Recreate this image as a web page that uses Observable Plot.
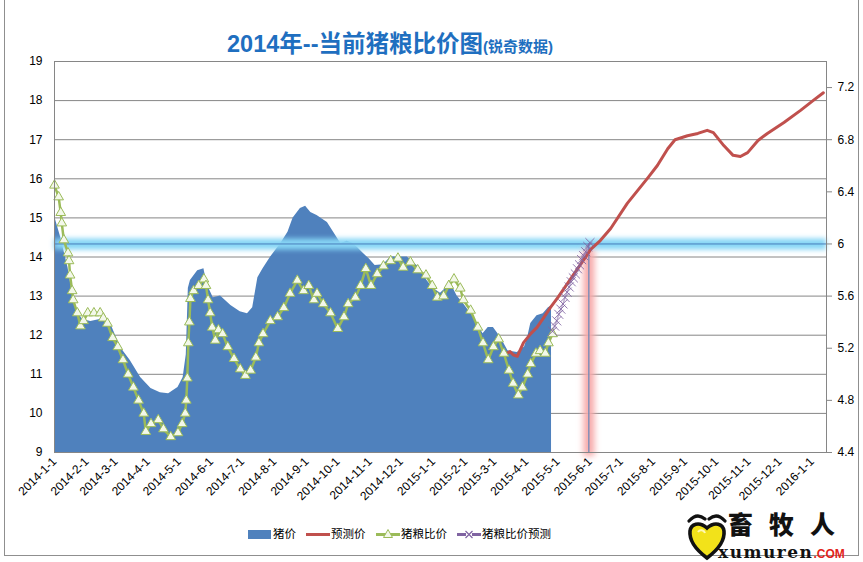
<!DOCTYPE html>
<html>
<head>
<meta charset="utf-8">
<script src="https://cdn.jsdelivr.net/npm/d3@7"></script>
<script src="https://cdn.jsdelivr.net/npm/@observablehq/plot@0.6"></script>
<style>
  body { margin: 0; background: #fff; }
  #wrap { position: relative; width: 863px; height: 562px; overflow: hidden; background: #fff;
          font-family: "Liberation Sans", "Noto Sans CJK SC", sans-serif; }
  #chart { position: absolute; left: 0; top: 0; }
  #border { position: absolute; left: 4px; top: -2px; width: 855px; height: 558px; border: 1px solid #8f8f8f; box-sizing: border-box; }
  #title { position: absolute; left: 0; width: 780px; top: 25px; text-align: center; color: #1F6FC0; font-weight: bold; white-space: nowrap; }
  #title .big { font-size: 23.5px; }
  #title .small { font-size: 15px; }
  .leg { position: absolute; top: 525px; font-size: 11.5px; color: #000; line-height: 18px; white-space: nowrap; }
  .leg svg { position: absolute; top: 0; }
  #logo { position: absolute; left: 686px; top: 512px; }
  #logo .cn { position: absolute; left: 42px; top: -7px; line-height: normal; font-family: "Noto Sans CJK SC", sans-serif; font-weight: 900; font-size: 25px; letter-spacing: 16px; color: #111; white-space: nowrap; }
  #logo .en { position: absolute; left: 32px; top: 30px; line-height: normal; font-family: "DejaVu Serif", "Liberation Serif", serif; font-weight: bold; font-size: 17px; letter-spacing: 1.5px; color: #111; white-space: nowrap; }
  #logo .en span { color: #E2231A; font-family: "Liberation Sans", sans-serif; font-size: 12px; letter-spacing: 0; }
</style>
</head>
<body>
<div id="wrap">
  <div id="chart"></div>
  <div id="border"></div>
  <div id="title"><span class="big">2014年--当前猪粮比价图</span><span class="small">(锐奇数据)</span></div>
  <div id="legend"></div>
  <div id="logo">
    <svg width="42" height="50" viewBox="0 0 42 50">
      <path d="M3,9 Q11,0 19,7" fill="none" stroke="#111" stroke-width="3.2" stroke-linecap="round"/>
      <path d="M23,7 Q31,0 39,9" fill="none" stroke="#111" stroke-width="3.2" stroke-linecap="round"/>
      <path d="M21,46 C9,37 3,29 4,19 C5,12 13,9 21,16 C29,9 37,12 38,19 C39,29 33,37 21,46 Z" fill="#F2E21A" stroke="#111" stroke-width="3.6"/>
      <path d="M12,20 C14,17 18,18 19,21" fill="none" stroke="#fff8b0" stroke-width="2"/>
    </svg>
    <div class="cn">畜牧人</div>
    <div class="en">xumuren<span>.COM</span></div>
  </div>
</div>
<script>
// ---------------- data ----------------
// 猪价 (left axis, 元/kg) – bars
const pigDates = ["2014-01-01","2014-01-07","2014-01-14","2014-01-18","2014-01-23","2014-01-28","2014-02-05","2014-02-14","2014-02-24",
  "2014-03-03","2014-03-08","2014-03-15","2014-03-25","2014-04-04","2014-04-13","2014-04-21","2014-04-30","2014-05-05","2014-05-08",
  "2014-05-10","2014-05-12","2014-05-19","2014-05-25","2014-05-28","2014-06-03","2014-06-10","2014-06-20","2014-06-29","2014-07-06",
  "2014-07-11","2014-07-16","2014-07-21","2014-07-28","2014-08-07","2014-08-14","2014-08-19","2014-08-26","2014-08-31","2014-09-05",
  "2014-09-11","2014-09-21","2014-09-27","2014-10-04","2014-10-10","2014-10-15","2014-10-20","2014-10-26","2014-10-31","2014-11-06",
  "2014-11-14","2014-11-21","2014-11-30","2014-12-07","2014-12-13","2014-12-20","2014-12-26","2015-01-01","2015-01-08","2015-01-18",
  "2015-01-24","2015-01-30","2015-02-09","2015-02-18","2015-02-23","2015-02-28","2015-03-07","2015-03-14","2015-03-23","2015-03-30",
  "2015-04-02","2015-04-05","2015-04-11","2015-04-17","2015-04-22","2015-04-25"];
const pigValues = [15.05,14.5,13.73,13.1,12.6,12.4,12.35,12.4,12.3,
  11.86,11.6,11.35,10.92,10.64,10.53,10.5,10.66,10.92,11.5,
  13.2,13.4,13.65,13.7,13.3,12.96,13.0,12.76,12.6,12.55,
  12.7,13.47,13.7,13.99,14.34,14.63,15.0,15.24,15.3,15.14,
  15.06,14.88,14.63,14.34,14.4,14.35,14.24,14.08,13.96,13.78,
  13.8,14.0,14.0,14.0,13.86,13.7,13.4,13.2,13.07,13.32,
  13.0,12.81,12.45,12.04,12.2,12.2,11.94,11.6,11.56,11.7,
  11.94,12.3,12.5,12.55,12.7,12.75];

// 预测价 (left axis)
const predDates = ["2015-03-10","2015-03-14","2015-03-16","2015-03-19","2015-03-23","2015-03-29","2015-04-05","2015-04-11","2015-04-17",
  "2015-04-24","2015-05-01","2015-05-07","2015-06-02","2015-06-11","2015-06-21","2015-07-07","2015-07-27","2015-08-05","2015-08-15",
  "2015-08-22","2015-09-03","2015-09-13","2015-09-22","2015-09-28","2015-10-08","2015-10-17","2015-10-24","2015-10-31","2015-11-10",
  "2015-11-19","2015-12-05","2015-12-21","2016-01-02","2016-01-12"];
const predValues = [11.53,11.55,11.58,11.5,11.46,11.81,12.04,12.2,12.43,
  12.71,12.96,13.19,14.2,14.42,14.73,15.37,16.03,16.34,16.77,
  17.0,17.1,17.16,17.24,17.18,16.85,16.6,16.57,16.67,16.98,
  17.16,17.44,17.75,18.0,18.2];

// 猪粮比价 (right axis)
const ratioDates = ["2014-01-01","2014-01-05","2014-01-07","2014-01-08","2014-01-10","2014-01-14","2014-01-15","2014-01-16","2014-01-18",
  "2014-01-19","2014-01-23","2014-01-26","2014-01-29","2014-02-02","2014-02-08","2014-02-14","2014-02-17","2014-02-21","2014-02-26",
  "2014-03-03","2014-03-08","2014-03-13","2014-03-18","2014-03-23","2014-03-28","2014-03-30","2014-04-04","2014-04-11","2014-04-16",
  "2014-04-23","2014-04-30","2014-05-04","2014-05-07","2014-05-08","2014-05-09","2014-05-10","2014-05-11","2014-05-12","2014-05-15",
  "2014-05-20","2014-05-25","2014-05-27","2014-05-29","2014-05-31","2014-06-02","2014-06-05","2014-06-08","2014-06-12","2014-06-17",
  "2014-06-23","2014-06-29","2014-07-04","2014-07-09","2014-07-14","2014-07-17","2014-07-21","2014-07-28","2014-08-04","2014-08-10",
  "2014-08-16","2014-08-23","2014-08-29","2014-09-03","2014-09-08","2014-09-11","2014-09-17","2014-09-24","2014-10-01","2014-10-07",
  "2014-10-11","2014-10-18","2014-10-23","2014-10-28","2014-11-02","2014-11-08","2014-11-14","2014-11-21","2014-11-28","2014-12-03",
  "2014-12-10","2014-12-17","2014-12-25","2014-12-31","2015-01-05","2015-01-11","2015-01-16","2015-01-21","2015-01-27","2015-01-30",
  "2015-02-06","2015-02-13","2015-02-18","2015-02-23","2015-02-28","2015-03-05","2015-03-10","2015-03-15","2015-03-19","2015-03-24",
  "2015-03-28","2015-04-02","2015-04-05","2015-04-10","2015-04-14","2015-04-19","2015-04-22","2015-04-26"];
const ratioValues = [6.45,6.36,6.24,6.16,6.03,5.93,5.87,5.76,5.64,
  5.57,5.47,5.37,5.41,5.47,5.47,5.47,5.43,5.39,5.28,
  5.21,5.11,5.0,4.9,4.8,4.7,4.56,4.62,4.65,4.58,
  4.52,4.55,4.62,4.7,4.8,4.97,5.24,5.4,5.58,5.64,
  5.68,5.73,5.68,5.57,5.47,5.36,5.26,5.34,5.31,5.21,
  5.12,5.04,4.99,5.03,5.13,5.24,5.31,5.41,5.44,5.51,
  5.62,5.72,5.64,5.68,5.57,5.62,5.54,5.47,5.35,5.44,
  5.54,5.59,5.68,5.81,5.68,5.77,5.83,5.87,5.89,5.82,
  5.86,5.8,5.76,5.68,5.59,5.6,5.68,5.73,5.66,5.57,
  5.49,5.36,5.24,5.11,5.21,5.27,5.16,5.03,4.93,4.84,
  4.9,5.0,5.08,5.16,5.18,5.16,5.24,5.31];

// 猪粮比价预测 (right axis)
const ratioPredDates = ["2015-04-26","2015-04-28","2015-04-30","2015-05-02","2015-05-04","2015-05-06","2015-05-08","2015-05-10",
  "2015-05-12","2015-05-14","2015-05-16","2015-05-18","2015-05-20","2015-05-22","2015-05-24","2015-05-26","2015-05-28","2015-05-30","2015-06-01"];
const ratioPredValues = [5.33,5.37,5.41,5.46,5.50,5.54,5.59,5.63,5.67,5.71,5.74,5.77,5.81,5.84,5.88,5.91,5.94,5.98,6.01];

// reference markers
const breakEvenRatio = 6;            // 盈亏平衡点 (right axis)
const markerDate = "2015-05-31";     // vertical marker

// axes
const leftTicks = [9,10,11,12,13,14,15,16,17,18,19];
const rightTicks = [4.4,4.8,5.2,5.6,6,6.4,6.8,7.2];
const rightDomain = [4.4, 7.4];
const monthLabels = ["2014-1-1","2014-2-1","2014-3-1","2014-4-1","2014-5-1","2014-6-1","2014-7-1","2014-8-1","2014-9-1",
  "2014-10-1","2014-11-1","2014-12-1","2015-1-1","2015-2-1","2015-3-1","2015-4-1","2015-5-1","2015-6-1","2015-7-1",
  "2015-8-1","2015-9-1","2015-10-1","2015-11-1","2015-12-1","2016-1-1"];
const xDomain = ["2014-01-01", "2016-01-15"];

// ---------------- build ----------------
const zip = (ds, vs) => ds.map((d, i) => ({date: new Date(d), value: vs[i]}));
const pig = zip(pigDates, pigValues);
const pred = zip(predDates, predValues);
const ratio = zip(ratioDates, ratioValues);
const ratioPred = zip(ratioPredDates, ratioPredValues);

// map right-axis values onto the left scale
const L0 = leftTicks[0], L1 = leftTicks[leftTicks.length - 1];
const toL = v => L0 + (v - rightDomain[0]) * (L1 - L0) / (rightDomain[1] - rightDomain[0]);
const fromL = y => rightDomain[0] + (y - L0) * (rightDomain[1] - rightDomain[0]) / (L1 - L0);

const parseLabel = s => { const [y, m, d] = s.split("-").map(Number); return new Date(Date.UTC(y, m - 1, d)); };
const monthDates = monthLabels.map(parseLabel);
const labelMap = new Map(monthDates.map((d, i) => [+d, monthLabels[i]]));
const lineY = toL(breakEvenRatio);
const mDate = new Date(markerDate);

const chart = Plot.plot({
  width: 863,
  height: 562,
  marginLeft: 54,
  marginRight: 37,
  marginTop: 61,
  marginBottom: 110,
  x: {type: "utc", domain: xDomain.map(d => new Date(d))},
  y: {domain: [L0, L1]},
  style: {fontFamily: "'Liberation Sans', Arial, sans-serif", fontSize: "12px", color: "#000", background: "transparent", overflow: "visible"},
  marks: [
    Plot.gridY(leftTicks, {stroke: "#868686", strokeOpacity: 1}),
    Plot.areaY(pig, {x: "date", y1: L0, y2: "value", curve: "linear", fill: "#4F81BD"}),
    // glow of the break-even line
    Plot.ruleY([lineY], {stroke: "#86d6f6", strokeWidth: 11}),
    Plot.ruleY([lineY], {stroke: "#4A7EBB", strokeWidth: 1}),
    // glow of the vertical marker
    Plot.ruleX([mDate], {y1: lineY - 0.15, y2: L0 - 0.1, stroke: "#f7a9a9", strokeWidth: 11}),
    Plot.ruleX([mDate], {y1: lineY, y2: L0, stroke: "#4A7EBB", strokeWidth: 1}),
    Plot.lineY(pred, {x: "date", y: "value", stroke: "#C0504D", strokeWidth: 3}),
    Plot.lineY(ratio, {x: "date", y: d => toL(d.value), stroke: "#9BBB59", strokeWidth: 2.5}),
    Plot.dot(ratio, {x: "date", y: d => toL(d.value), symbol: "triangle", r: 3.6, fill: "#F3F8EA", stroke: "#9BBB59", strokeWidth: 1}),
    Plot.lineY(ratioPred, {x: "date", y: d => toL(d.value), stroke: "#8064A2", strokeWidth: 1.5, strokeOpacity: 0.5}),
    Plot.dot(ratioPred, {x: "date", y: d => toL(d.value), symbol: "times", r: 4.2, stroke: "#8064A2", strokeWidth: 1, strokeOpacity: 0.85}),
    Plot.frame({stroke: "#868686"}),
    Plot.axisY(leftTicks, {anchor: "left", tickSize: 0, tickPadding: 12, label: null, fill: "#000"}),
    Plot.axisY(rightTicks.map(toL), {anchor: "right", tickSize: 5, tickPadding: 6, stroke: "#868686", fill: "#000", label: null,
      tickFormat: y => String(Math.round(fromL(y) * 10) / 10)}),
    Plot.axisX(monthDates, {anchor: "bottom", tickSize: 0, tickPadding: 7, tickRotate: -45, label: null, fill: "#000",
      tickFormat: d => labelMap.get(+d)})
  ]
});

// soft glow filters
const ns = "http://www.w3.org/2000/svg";
const defs = document.createElementNS(ns, "defs");
defs.innerHTML = '<filter id="glow" filterUnits="userSpaceOnUse" x="0" y="0" width="863" height="562"><feGaussianBlur stdDeviation="2.6"/></filter>' +
  '<filter id="glow2" filterUnits="userSpaceOnUse" x="0" y="0" width="863" height="562"><feGaussianBlur stdDeviation="3.2"/></filter>';
chart.insertBefore(defs, chart.firstChild);
chart.querySelectorAll('g[stroke="#86d6f6"]').forEach(g => g.setAttribute("filter", "url(#glow)"));
chart.querySelectorAll('g[stroke="#f7a9a9"]').forEach(g => g.setAttribute("filter", "url(#glow2)"));
document.getElementById("chart").appendChild(chart);

// legend
const legendItems = [
  {label: "猪价", left: 248, kind: "bar", color: "#4F81BD"},
  {label: "预测价", left: 306, kind: "line", color: "#C0504D"},
  {label: "猪粮比价", left: 376, kind: "tri", color: "#9BBB59"},
  {label: "猪粮比价预测", left: 457, kind: "x", color: "#8064A2"}
];
const leg = document.getElementById("legend");
legendItems.forEach(it => {
  const div = document.createElement("div");
  div.className = "leg";
  div.style.left = it.left + "px";
  let sym;
  if (it.kind === "bar") sym = `<rect x="0" y="5" width="23" height="9" fill="${it.color}"/>`;
  else if (it.kind === "line") sym = `<line x1="0" x2="24" y1="9.5" y2="9.5" stroke="${it.color}" stroke-width="3"/>`;
  else if (it.kind === "tri") sym = `<line x1="0" x2="24" y1="9.5" y2="9.5" stroke="${it.color}" stroke-width="3"/><path d="M12,4.5 L16.5,12.5 L7.5,12.5 Z" fill="#F3F8EA" stroke="${it.color}" stroke-width="1"/>`;
  else sym = `<line x1="0" x2="24" y1="9.5" y2="9.5" stroke="${it.color}" stroke-width="3"/><line x1="9" x2="15" y1="9.5" y2="9.5" stroke="#fff" stroke-width="3"/><path d="M8.5,6 L15.5,13 M15.5,6 L8.5,13" stroke="${it.color}" stroke-width="1.2"/>`;
  div.innerHTML = `<svg width="24" height="18" style="left:0">${sym}</svg><span style="margin-left:25px">${it.label}</span>`;
  leg.appendChild(div);
});
</script>
</body>
</html>
